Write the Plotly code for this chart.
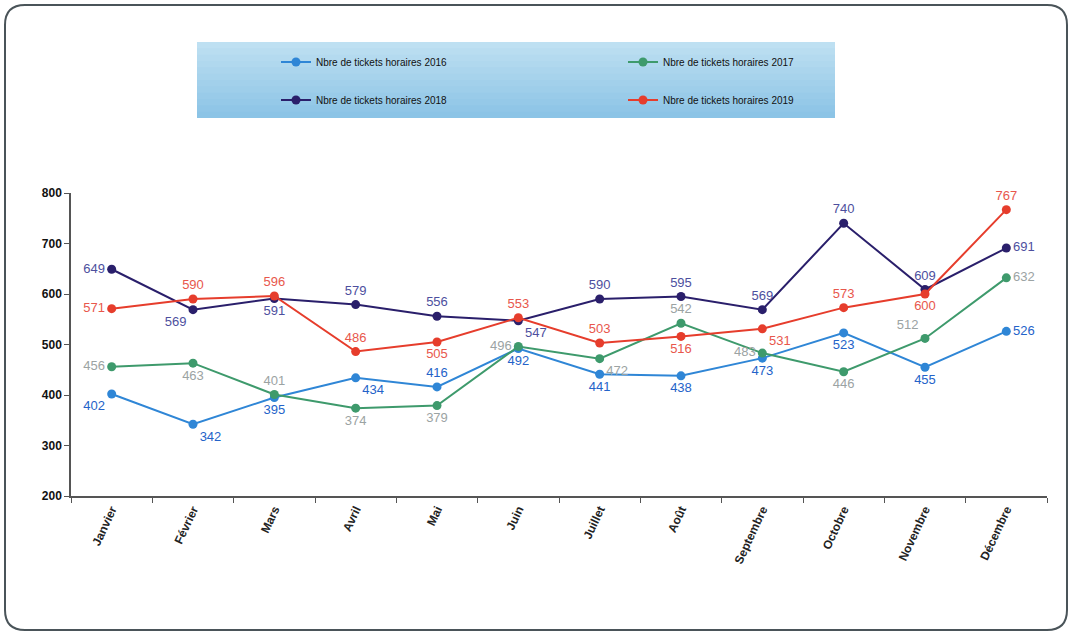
import plotly.graph_objects as go

months = ["Janvier", "Février", "Mars", "Avril", "Mai", "Juin", "Juillet",
          "Août", "Septembre", "Octobre", "Novembre", "Décembre"]

v2016 = [402, 342, 395, 434, 416, 492, 441, 438, 473, 523, 455, 526]
v2017 = [456, 463, 401, 374, 379, 496, 472, 542, 483, 446, 512, 632]
v2018 = [649, 569, 591, 579, 556, 547, 590, 595, 569, 740, 609, 691]
v2019 = [571, 590, 596, 486, 505, 553, 503, 516, 531, 573, 600, 767]

names = ["Nbre de tickets horaires 2016", "Nbre de tickets horaires 2017",
         "Nbre de tickets horaires 2018", "Nbre de tickets horaires 2019"]

pos2016 = ["bottom left", "bottom right", "bottom center", "bottom right", "top center",
           "bottom center", "bottom center", "bottom center", "bottom center",
           "bottom center", "bottom center", "middle right"]
pos2017 = ["middle left", "bottom center", "top center", "bottom center", "bottom center",
           "middle left", "bottom right", "top center", "middle left", "bottom center",
           "top left", "middle right"]
pos2018 = ["middle left", "bottom left", "bottom center", "top center", "top center",
           "bottom right", "top center", "top center", "top center", "top center",
           "top center", "middle right"]
pos2019 = ["middle left", "top center", "top center", "top center", "bottom center",
           "top center", "top center", "bottom center", "bottom right", "top center",
           "bottom center", "top center"]

# figure geometry (pixels)
W, H = 1071, 633
L, R, T, B = 71, 24, 193, 137
PW, PH = W - L - R, H - T - B


def px(p):
    return (p - L) / PW


def py(q):
    return (H - B - q) / PH


series = [
    (v2016, names[0], "#2f86d6", "#2463c9", pos2016, "legend"),
    (v2017, names[1], "#3e9a6c", "#9ba3a3", pos2017, "legend"),
    (v2018, names[2], "#2a1f6b", "#4d4f9e", pos2018, "legend2"),
    (v2019, names[3], "#e63d2c", "#e8574c", pos2019, "legend2"),
]

fig = go.Figure()
for vals, name, lc, tc, pos, leg in series:
    fig.add_trace(go.Scatter(
        x=months, y=vals, name=name, mode="lines+markers+text",
        text=[str(v) for v in vals], textposition=pos,
        textfont=dict(family="Liberation Sans, Arial", size=13, color=tc),
        line=dict(color=lc, width=2),
        marker=dict(color=lc, size=9),
        legend=leg, cliponaxis=False,
    ))

shapes = []
# legend background (vertical gradient approximation)
bx0, bx1, by0, by1 = 197, 835, 42, 118
n = 12
c_top = (190, 224, 242)
c_bot = (140, 196, 230)
for i in range(n):
    t = i / (n - 1)
    c = tuple(int(c_top[k] + (c_bot[k] - c_top[k]) * t) for k in range(3))
    q0 = by0 + (by1 - by0) * i / n
    q1 = min(by1, by0 + (by1 - by0) * (i + 1) / n + 1.5)
    shapes.append(dict(type="rect", xref="paper", yref="paper",
                       x0=px(bx0), x1=px(bx1), y0=py(q1), y1=py(q0),
                       fillcolor="rgb(%d,%d,%d)" % c, line=dict(width=0), layer="below"))

# rounded outer frame
fx0, fy0, fx1, fy1, rr = 5, 5, 1067, 630, 20


def P(a, b):
    return "%.5f,%.5f" % (px(a), py(b))


path = ("M " + P(fx0 + rr, fy0) + " L " + P(fx1 - rr, fy0) +
        " Q " + P(fx1, fy0) + " " + P(fx1, fy0 + rr) +
        " L " + P(fx1, fy1 - rr) +
        " Q " + P(fx1, fy1) + " " + P(fx1 - rr, fy1) +
        " L " + P(fx0 + rr, fy1) +
        " Q " + P(fx0, fy1) + " " + P(fx0, fy1 - rr) +
        " L " + P(fx0, fy0 + rr) +
        " Q " + P(fx0, fy0) + " " + P(fx0 + rr, fy0) + " Z")
shapes.append(dict(type="path", xref="paper", yref="paper", path=path,
                   line=dict(color="#4a5459", width=2), layer="below"))

legend_common = dict(
    orientation="h", xanchor="left", yanchor="middle",
    bgcolor="rgba(0,0,0,0)", borderwidth=0,
    font=dict(family="Liberation Sans, Arial", size=10, color="#111111"),
    entrywidth=302, entrywidthmode="pixels", itemwidth=30,
)

fig.update_layout(
    width=W, height=H,
    margin=dict(l=L, r=R, t=T, b=B),
    paper_bgcolor="white", plot_bgcolor="white",
    showlegend=True,
    legend=dict(x=px(276), y=py(62), **legend_common),
    legend2=dict(x=px(276), y=py(100), **legend_common),
    shapes=shapes,
    xaxis=dict(
        type="category", range=[-0.5, 11.5], autorange=False,
        showgrid=False, showline=True, linecolor="#555555", linewidth=1.5,
        ticks="outside", ticklen=5, tickcolor="#555555", tickson="boundaries",
        tickangle=-65,
        tickfont=dict(family="Liberation Sans, Arial", size=12, color="#222222", weight="bold"),
    ),
    yaxis=dict(
        range=[200, 800], dtick=100, showgrid=False, zeroline=False,
        showline=True, linecolor="#555555", linewidth=1.5,
        ticks="outside", ticklen=5, tickcolor="#555555",
        tickfont=dict(family="Liberation Sans, Arial", size=12, color="#111111", weight="bold"),
    ),
)

fig.write_html("out.html", config={"displayModeBar": False},
               post_script="document.body.style.margin='0';document.body.style.overflow='hidden';")
